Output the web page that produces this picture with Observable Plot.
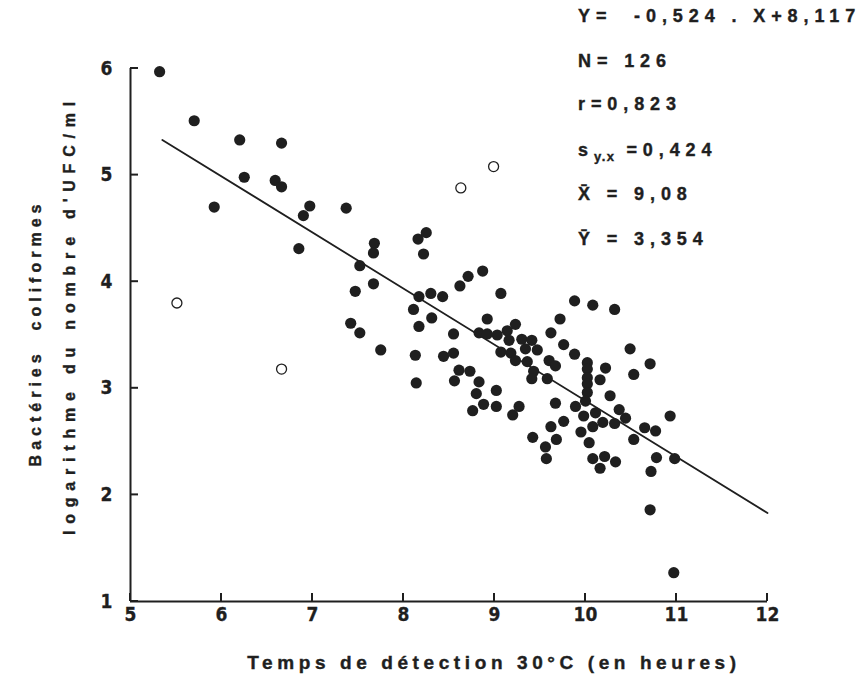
<!DOCTYPE html>
<html>
<head>
<meta charset="utf-8">
<script src="https://cdn.jsdelivr.net/npm/d3@7"></script>
<script src="https://cdn.jsdelivr.net/npm/@observablehq/plot@0.6"></script>
<style>
  html, body { margin: 0; padding: 0; background: #fff; }
  #chart svg { display: block; }
</style>
</head>
<body>
<div id="chart"></div>
<script>
// ---- data ----
const xFilled = [5.32,5.70,6.20,6.66,6.25,6.59,6.66,5.92,6.97,6.90,7.37,6.85,7.68,7.67,7.52,7.67,7.47,7.42,7.52,7.75,
  8.16,8.25,8.22,8.62,8.71,8.87,9.07,8.17,8.30,8.43,8.11,8.31,8.17,8.55,8.92,8.13,8.44,8.55,8.61,8.73,
  8.56,8.83,8.14,8.80,9.02,8.88,8.76,9.02,9.27,9.20,9.67,9.23,9.72,9.62,9.76,
  8.83,8.92,9.03,9.14,9.16,9.30,9.41,9.34,9.47,9.07,9.18,9.23,9.36,9.43,9.41,9.58,9.60,9.67,
  9.88,10.08,10.32,9.88,10.02,10.02,10.02,10.02,10.02,10.00,10.22,10.16,10.49,10.71,10.53,10.27,10.37,10.44,10.93,
  9.89,10.11,9.98,10.19,10.32,10.08,10.65,10.77,9.76,9.62,9.95,9.68,10.04,10.53,9.56,9.57,10.08,10.21,10.33,10.16,
  10.78,10.98,10.72,10.71,10.97,9.42];
const yFilled = [5.97,5.51,5.33,5.30,4.98,4.95,4.89,4.70,4.71,4.62,4.69,4.31,4.36,4.27,4.15,3.98,3.91,3.61,3.52,3.36,
  4.40,4.46,4.26,3.96,4.05,4.10,3.89,3.86,3.89,3.86,3.74,3.66,3.58,3.51,3.65,3.31,3.30,3.33,3.17,3.16,
  3.07,3.06,3.05,2.95,2.98,2.85,2.79,2.83,2.83,2.75,2.86,3.60,3.65,3.52,3.41,
  3.52,3.51,3.50,3.54,3.45,3.46,3.45,3.37,3.36,3.34,3.33,3.26,3.25,3.16,3.09,3.09,3.26,3.21,
  3.82,3.78,3.74,3.32,3.24,3.18,3.10,3.04,2.96,2.88,3.19,3.08,3.37,3.23,3.13,2.93,2.80,2.72,2.74,
  2.83,2.77,2.74,2.68,2.67,2.64,2.63,2.60,2.69,2.64,2.59,2.52,2.49,2.52,2.45,2.34,2.34,2.36,2.31,2.25,
  2.35,2.34,2.22,1.86,1.27,2.54];
const xOpen = [5.51, 6.66, 8.63, 8.99];
const yOpen = [3.80, 3.18, 4.88, 5.08];
// regression line end points (Y = -0,524 . X + 8,117)
const lineX = [5.35, 12];
const lineY = [5.33, 1.83];

const xTicks = [5, 6, 7, 8, 9, 10, 11, 12];
const yTicks = [1, 2, 3, 4, 5, 6];

const xTitle = "Temps de détection 30°C (en heures)";
const yTitle1 = "Bactéries  coliformes";
const yTitle2 = "logarithme du nombre d'UFC/ml";

const statLines = [
  [{t: "Y=  -0,524 . X+8,117"}],
  [{t: "N= 126"}],
  [{t: "r=0,823"}],
  [{t: "s"}, {t: "y.x", sub: true}, {t: " =0,424", up: true}],
  [{t: "X\u0304 = 9,08"}],
  [{t: "Y\u0304 = 3,354"}]
];

// ---- build tables ----
const filled = xFilled.map((x, i) => ({x, y: yFilled[i]}));
const open = xOpen.map((x, i) => ({x, y: yOpen[i]}));
const line = lineX.map((x, i) => ({x, y: lineY[i]}));
const yTickRows = yTicks.map(v => ({v}));
const xTickRows = xTicks.map(v => ({v}));

const ink = "#1f1f1f";
const tickFamily = "'Liberation Sans Narrow', 'DejaVu Sans Condensed', 'Arial Narrow', sans-serif";

const W = 867, H = 677, mL = 130, mR = 100, mT = 68, mB = 76;
const tickLen = 8;

const svg = Plot.plot({
  width: W,
  height: H,
  marginLeft: mL,
  marginRight: mR,
  marginTop: mT,
  marginBottom: mB,
  style: {background: "#fff", color: ink},
  x: {domain: [xTicks[0], xTicks[xTicks.length - 1]], label: null, axis: null},
  y: {domain: [yTicks[0], yTicks[yTicks.length - 1]], label: null, axis: null},
  marks: [
    Plot.ruleX([xTicks[0]], {stroke: ink, strokeWidth: 2}),
    Plot.ruleY([yTicks[0]], {stroke: ink, strokeWidth: 2}),
    // tick labels
    Plot.text(yTickRows, {y: "v", text: d => String(d.v), frameAnchor: "left", dx: -24, textAnchor: "middle",
      fontSize: 19, fontWeight: "bold", fontFamily: tickFamily, fill: ink, stroke: ink, strokeWidth: 0.3}),
    Plot.text(xTickRows, {x: "v", text: d => String(d.v), frameAnchor: "bottom", dy: 19, textAnchor: "middle",
      fontSize: 19, fontWeight: "bold", fontFamily: tickFamily, fill: ink, stroke: ink, strokeWidth: 0.3}),
    Plot.line(line, {x: "x", y: "y", stroke: ink, strokeWidth: 1.8}),
    Plot.dot(filled, {x: "x", y: "y", r: 5.6, fill: ink, stroke: "none"}),
    Plot.dot(open, {x: "x", y: "y", r: 5, fill: "#fff", stroke: ink, strokeWidth: 1.3})
  ]
});

const root = d3.select(svg);
const xs = svg.scale("x"), ys = svg.scale("y");
const frameLeft = xs.apply(xTicks[0]);
const frameBottom = ys.apply(yTicks[0]);

// inward ticks, positioned with the plot's own scales
const tg = root.append("g");
yTicks.forEach(v => {
  const y = ys.apply(v);
  tg.append("path").attr("d", `M${frameLeft},${y}h${tickLen}`).attr("stroke", ink).attr("stroke-width", 2).attr("fill", "none");
});
xTicks.forEach(v => {
  const x = xs.apply(v);
  tg.append("path").attr("d", `M${x},${frameBottom}v${-tickLen}`).attr("stroke", ink).attr("stroke-width", 2).attr("fill", "none");
});

const titleFont = "'Liberation Sans', Arial, sans-serif";

// x title
root.append("text")
  .attr("x", 494).attr("y", 669)
  .attr("text-anchor", "middle")
  .attr("font-family", titleFont).attr("font-weight", "bold").attr("font-size", 19)
  .attr("letter-spacing", 4.6)
  .attr("fill", ink).attr("stroke", ink).attr("stroke-width", 0.4)
  .text(xTitle);

// y titles (rotated)
[[yTitle1, 41, 333, 5], [yTitle2, 75, 315, 6.8]].forEach(([t, x, y, ls]) => {
  root.append("text")
    .attr("transform", `translate(${x},${y}) rotate(-90)`)
    .attr("text-anchor", "middle")
    .attr("font-family", titleFont).attr("font-weight", "bold").attr("font-size", 16)
    .attr("letter-spacing", ls)
    .attr("fill", ink).attr("stroke", ink).attr("stroke-width", 0.4)
    .style("white-space", "pre")
    .text(t);
});

// stats block
const baselines = [22, 67, 110, 156, 200, 245];
statLines.forEach((parts, i) => {
  const txt = root.append("text")
    .attr("x", 578).attr("y", baselines[i])
    .attr("text-anchor", "start")
    .attr("font-family", titleFont).attr("font-weight", "bold").attr("font-size", 18)
    .attr("letter-spacing", 5.9)
    .attr("fill", ink).attr("stroke", ink).attr("stroke-width", 0.4)
    .style("white-space", "pre");
  parts.forEach(p => {
    const ts = txt.append("tspan").text(p.t);
    if (p.sub) ts.attr("font-size", 13).attr("dy", 5).attr("letter-spacing", 1.5);
    if (p.up) ts.attr("dy", -5);
  });
});

document.getElementById("chart").appendChild(svg);
</script>
</body>
</html>
